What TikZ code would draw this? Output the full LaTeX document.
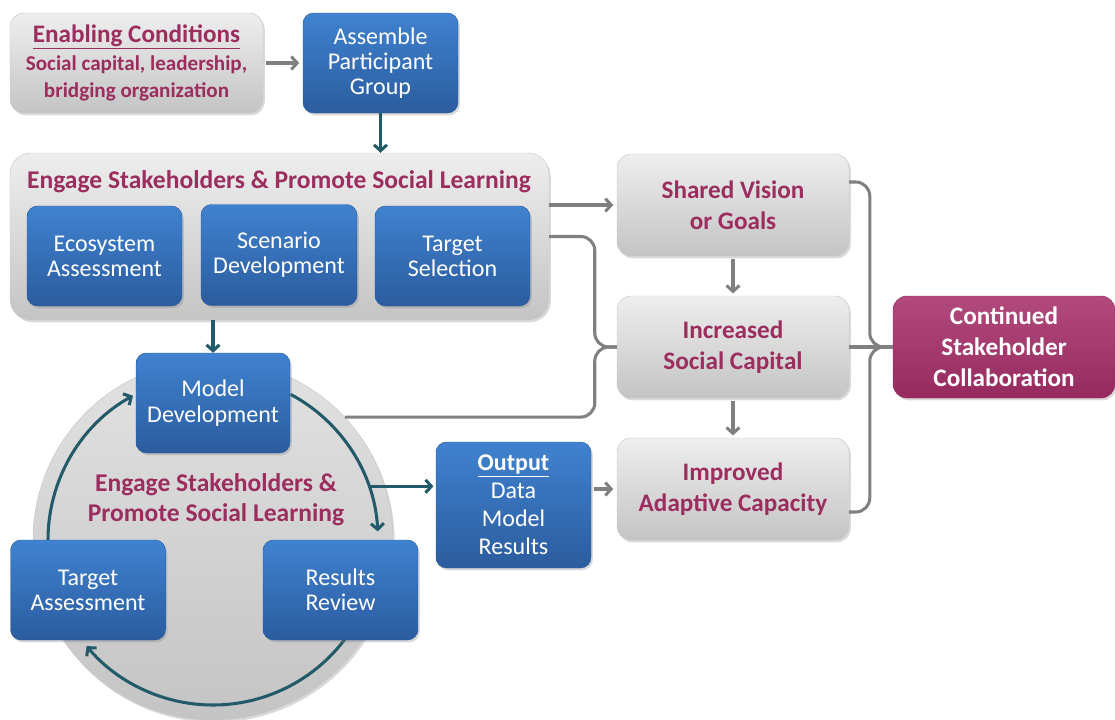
\documentclass[tikz,border=0pt]{standalone}
\usepackage{fontspec}
\setmainfont{Carlito}
\usetikzlibrary{arrows.meta, shadows}

\definecolor{plum}{RGB}{155,45,95}
\definecolor{bluetop}{RGB}{64,130,208}
\definecolor{bluebot}{RGB}{43,92,158}
\definecolor{graytop}{RGB}{238,238,238}
\definecolor{graybot}{RGB}{196,196,196}
\definecolor{grayedge}{RGB}{200,200,200}
\definecolor{plumtop}{RGB}{178,74,126}
\definecolor{plumbot}{RGB}{150,42,94}
\definecolor{tealline}{RGB}{35,90,105}
\definecolor{greyline}{RGB}{128,128,128}

\begin{document}
\begin{tikzpicture}[x=0.03cm, y=-0.03cm,
    boxsize/.style 2 args={minimum width=#1*0.03cm, minimum height=#2*0.03cm},
    softshadow/.style={drop shadow={opacity=0.3, shadow xshift=1.5pt, shadow yshift=-2pt}},
    bluebox/.style={rounded corners=9pt, top color=bluetop, bottom color=bluebot, draw=bluebot,
      text=white, align=center, inner sep=0pt, softshadow, font=\fontsize{20.5}{21.5}\selectfont},
    graybox/.style={rounded corners=12pt, top color=graytop, bottom color=graybot, draw=grayedge,
      text=plum, align=center, inner sep=0pt, softshadow, font=\bfseries\fontsize{21.5}{26.5}\selectfont},
    plumbox/.style={rounded corners=12pt, top color=plumtop, bottom color=plumbot, draw=plumbot,
      text=white, align=center, inner sep=0pt, softshadow, font=\bfseries\fontsize{21.5}{26.5}\selectfont},
    plumtext/.style={text=plum, align=center, font=\bfseries\fontsize{21.8}{25.5}\selectfont},
    greyarrow/.style={draw=greyline, line width=2.6pt, -{Straight Barb[length=5pt, width=11pt]}},
    tealarrow/.style={draw=tealline, line width=2.6pt, -{Straight Barb[length=5pt, width=11pt]}},
    greybrace/.style={draw=greyline, line width=2.6pt, rounded corners=12pt}]
  \useasboundingbox (0,0) rectangle (1115,719);

  % Top row
  \node[graybox, boxsize={253}{100}, font=\bfseries\fontsize{18}{22.8}\selectfont] (enabling) at (136.5,63)
    {\fontsize{21.5}{22.8}\selectfont\underline{Enabling Conditions}\\[1pt]
     Social capital, leadership,\\ bridging organization};
  \node[bluebox, boxsize={155}{100}] (assemble) at (380.5,63) {Assemble\\Participant\\Group};
  \draw[greyarrow, shorten <=2pt, shorten >=3pt] (enabling) -- (assemble);

  % Stakeholder panel
  \node[graybox, rounded corners=18pt, boxsize={539}{167}] (engage) at (279.5,236.5) {};
  \node[plumtext] (engagetitle) at (279,182) {Engage Stakeholders \& Promote Social Learning};
  \node[bluebox, boxsize={155}{100}] (ecosys) at (104.5,256) {Ecosystem\\Assessment};
  \node[bluebox, boxsize={156}{101}] (scenario) at (279,255) {Scenario\\Development};
  \node[bluebox, boxsize={155}{100}] (targetsel) at (452.5,256) {Target\\Selection};
  \draw[tealarrow] (assemble.south) -- (assemble.south |- engage.north);

  % Modelling cycle
  \node[circle, minimum size=360*0.03cm, top color=graytop!70!graybot, bottom color=graybot,
    draw=grayedge, softshadow] (ring) at (213,540) {};
  \node[plumtext] (ringtitle) at (216,500) {Engage Stakeholders \&\\Promote Social Learning};
  \draw[tealarrow] ([shift={(62:4.95cm)}]ring.center) arc[start angle=62, end angle=3, radius=4.95cm];
  \draw[tealarrow] ([shift={(-36:4.95cm)}]ring.center) arc[start angle=-36, end angle=-140, radius=4.95cm];
  \draw[tealarrow] ([shift={(180:4.95cm)}]ring.center) arc[start angle=180, end angle=119, radius=4.95cm];
  \node[bluebox, boxsize={154}{100}] (modeldev) at (213,403) {Model\\Development};
  \node[bluebox, boxsize={155}{100}] (targetass) at (88,590) {Target\\Assessment};
  \node[bluebox, boxsize={155}{100}] (resrev) at (340.5,590) {Results\\Review};
  \draw[tealarrow] (modeldev.north |- engage.south) -- (modeldev.north);

  % Output
  \node[bluebox, boxsize={155}{126}, font=\fontsize{20.5}{24}\selectfont] (output) at (513.5,505)
    {\textbf{\underline{Output}}\\Data\\Model\\Results};
  \coordinate (outfrom) at ([shift={(19:4.95cm)}]ring.center);
  \draw[tealarrow, shorten >=2pt] (outfrom) -- (outfrom -| output.west);

  % Outcomes
  \node[graybox, boxsize={232}{102}] (vision) at (733,205) {Shared Vision\\or Goals};
  \node[graybox, boxsize={232}{102}] (capital) at (733,347) {Increased\\Social Capital};
  \node[graybox, boxsize={232}{102}] (adaptive) at (733,489) {Improved\\Adaptive Capacity};
  \node[plumbox, boxsize={222}{102}] (continued) at (1004,347) {Continued\\Stakeholder\\Collaboration};

  \draw[greyarrow, shorten >=3pt] (engage.east |- vision.west) -- (vision.west);
  \draw[greyarrow, shorten <=2pt, shorten >=2pt] (vision) -- (capital);
  \draw[greyarrow, shorten <=2pt, shorten >=2pt] (capital) -- (adaptive);
  \draw[greyarrow, shorten <=2pt, shorten >=3pt] (output.east |- adaptive.west) -- (adaptive.west);

  % Braces
  \draw[greybrace] (engage.east) -| ([xshift=-0.66cm]capital.west) -- (capital.west);
  \draw[greybrace] (ring.43) -| ([xshift=-0.66cm]capital.west) -- (capital.west);
  \draw[greybrace] ([yshift=0.69cm]vision.east) -| ([xshift=-0.69cm]continued.west) -- (continued.west);
  \draw[greybrace] ([yshift=-0.69cm]adaptive.east) -| ([xshift=-0.69cm]continued.west) -- (continued.west);
  \draw[draw=greyline, line width=2.6pt] (capital.east) -- (continued.west);
\end{tikzpicture}
\end{document}
